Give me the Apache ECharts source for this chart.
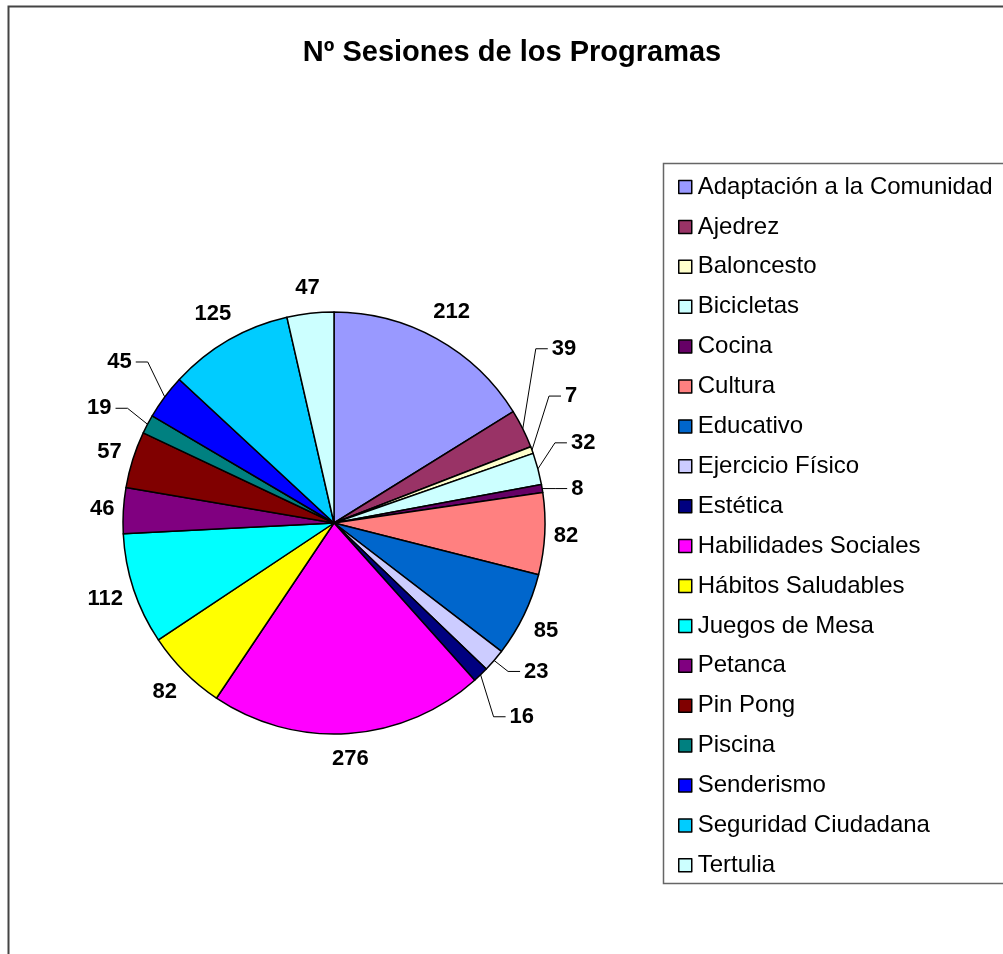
<!DOCTYPE html>
<html>
<head>
<meta charset="utf-8">
<script src="https://cdn.jsdelivr.net/npm/echarts@6/dist/echarts.min.js"></script>
<style>
html, body { margin: 0; padding: 0; background: #fff; }
#main { width: 1003px; height: 954px; }
</style>
</head>
<body>
<div id="main"></div>
<script>
var categories = ['Adaptación a la Comunidad', 'Ajedrez', 'Baloncesto', 'Bicicletas', 'Cocina', 'Cultura',
    'Educativo', 'Ejercicio Físico', 'Estética', 'Habilidades Sociales', 'Hábitos Saludables',
    'Juegos de Mesa', 'Petanca', 'Pin Pong', 'Piscina', 'Senderismo', 'Seguridad Ciudadana', 'Tertulia'];
var sesiones = [212, 39, 7, 32, 8, 82, 85, 23, 16, 276, 82, 112, 46, 57, 19, 45, 125, 47];
var colores = ['#9999FF', '#993366', '#FFFFCC', '#CCFFFF', '#660066', '#FF8080', '#0066CC', '#CCCCFF',
    '#000080', '#FF00FF', '#FFFF00', '#00FFFF', '#800080', '#800000', '#008080', '#0000FF', '#00CCFF', '#CCFFFF'];

// leader-line labels: bend of the line, relative to the slice edge (px)
var guias = {
    'Ajedrez': [13, -80],
    'Baloncesto': [17, -54],
    'Bicicletas': [17, -26],
    'Cocina': [13, 0],
    'Ejercicio Físico': [14, 11],
    'Estética': [13, 42],
    'Piscina': [-20, -16],
    'Senderismo': [-17, -35]
};

var dom = document.getElementById('main');
var myChart = echarts.init(dom);

var datos = categories.map(function (c, i) {
    return {
        name: c,
        value: sesiones[i],
        itemStyle: { color: colores[i] },
        labelLine: { show: !!guias[c] }
    };
});

// place labels just outside the slice, like the spreadsheet does
function colocarEtiqueta(params) {
    var pts = params.labelLinePoints;
    if (!pts) return {};
    var p0 = pts[0], p1 = pts[1];
    var dx = p1[0] - p0[0], dy = p1[1] - p0[1];
    var len = Math.sqrt(dx * dx + dy * dy) || 1;
    dx /= len; dy /= len;
    var nombre = categories[params.dataIndex];
    var g = guias[nombre];
    if (g) {
        var lado = g[0] >= 0 ? 1 : -1;
        var bx = p0[0] + g[0], by = p0[1] + g[1];
        var ex = bx + lado * 12;
        return {
            x: ex + lado * 4,
            y: by,
            align: lado > 0 ? 'left' : 'right',
            verticalAlign: 'middle',
            labelLinePoints: [[p0[0], p0[1]], [bx, by], [ex, by]]
        };
    }
    var w = params.labelRect.width, h = params.labelRect.height;
    var ext = Math.abs(dx) * w / 2 + Math.abs(dy) * (h / 2 + 5);
    var d = 8 + ext;
    return {
        x: p0[0] + dx * d,
        y: p0[1] + dy * d,
        align: 'center',
        verticalAlign: 'middle'
    };
}

option = {
    backgroundColor: '#ffffff',
    animation: false,
    title: {
        text: 'Nº Sesiones de los Programas',
        left: 507,
        top: 33,
        textAlign: 'center',
        textStyle: { fontFamily: 'Liberation Sans', fontWeight: 'bold', fontSize: 29, color: '#000' }
    },
    graphic: [
        { type: 'rect', shape: { x: 8.5, y: 6.5, width: 1100, height: 1100 }, style: { fill: 'none', stroke: '#444', lineWidth: 2 }, z: -1 },
        { type: 'rect', shape: { x: 663.5, y: 163.5, width: 400, height: 720 }, style: { fill: '#fff', stroke: '#666', lineWidth: 1.5 }, z: -1 }
    ],
    legend: {
        orient: 'vertical',
        left: 673,
        top: 170,
        itemWidth: 13,
        itemHeight: 13,
        itemGap: 15.9,
        icon: 'rect',
        selectedMode: false,
        itemStyle: { borderColor: '#000', borderWidth: 1.5 },
        textStyle: { fontFamily: 'Liberation Sans', fontSize: 24, color: '#000', padding: [0, 0, 0, 1] },
        data: categories
    },
    series: [{
        type: 'pie',
        center: [334, 523],
        radius: 211,
        startAngle: 90,
        clockwise: true,
        itemStyle: { borderColor: '#000', borderWidth: 1.5 },
        label: {
            position: 'outside',
            formatter: '{c}',
            fontFamily: 'Liberation Sans',
            fontWeight: 'bold',
            fontSize: 22,
            color: '#000'
        },
        labelLine: {
            length: 16,
            length2: 12,
            lineStyle: { color: '#000', width: 1 }
        },
        labelLayout: colocarEtiqueta,
        emphasis: { disabled: true },
        data: datos
    }]
};

if (option && typeof option === "object") {
    myChart.setOption(option, true);
}
</script>
</body>
</html>
